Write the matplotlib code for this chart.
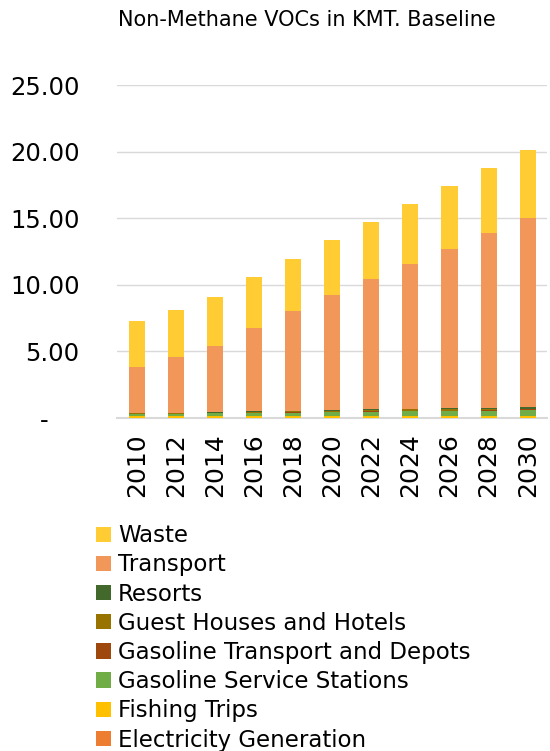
import matplotlib
matplotlib.use("Agg")
import matplotlib.pyplot as plt
import numpy as np
from matplotlib.ticker import FuncFormatter

plt.rcParams["font.family"] = ["DejaVu Sans"]

years = ["2010", "2012", "2014", "2016", "2018", "2020", "2022", "2024", "2026", "2028", "2030"]

# stacked from bottom to top
electricity = [0.02, 0.02, 0.02, 0.02, 0.02, 0.02, 0.02, 0.02, 0.02, 0.02, 0.02]
fishing = [0.13, 0.13, 0.13, 0.13, 0.13, 0.13, 0.13, 0.13, 0.13, 0.13, 0.13]
service_stations = [0.14, 0.16, 0.19, 0.22, 0.25, 0.28, 0.31, 0.34, 0.37, 0.41, 0.45]
gas_transport = [0.02, 0.02, 0.02, 0.03, 0.03, 0.03, 0.03, 0.04, 0.04, 0.04, 0.05]
guest_houses = [0.06, 0.06, 0.05, 0.05, 0.06, 0.08, 0.10, 0.12, 0.08, 0.06, 0.06]
resorts = [0.02, 0.02, 0.04, 0.04, 0.05, 0.06, 0.06, 0.06, 0.08, 0.09, 0.10]
transport = [3.46, 4.19, 4.95, 6.26, 7.51, 8.60, 9.75, 10.84, 11.98, 13.15, 14.24]
waste = [3.45, 3.50, 3.65, 3.85, 3.90, 4.15, 4.30, 4.55, 4.75, 4.90, 5.05]

series = [
    ("Electricity Generation", electricity, "#ED7D31"),
    ("Fishing Trips", fishing, "#FFC000"),
    ("Gasoline Service Stations", service_stations, "#70AD47"),
    ("Gasoline Transport and Depots", gas_transport, "#9E480E"),
    ("Guest Houses and Hotels", guest_houses, "#997300"),
    ("Resorts", resorts, "#43682B"),
    ("Transport", transport, "#F1975A"),
    ("Waste", waste, "#FFCD33"),
]

fig = plt.figure(figsize=(5.5, 7.51), dpi=100)
ax = fig.add_axes([0.213, 0.4434, 0.782, 0.4434])

x = np.arange(len(years))
bottom = np.zeros(len(years))
handles = []
for name, vals, color in series:
    h = ax.bar(x, vals, width=0.41, bottom=bottom, color=color, label=name, zorder=3)
    handles.append(h)
    bottom += np.array(vals)

ax.set_ylim(0, 25)
ax.set_xlim(-0.5, len(years) - 0.5)
ax.set_yticks([0, 5, 10, 15, 20, 25])
ax.yaxis.set_major_formatter(FuncFormatter(lambda v, p: "-    " if v == 0 else f"{v:.2f}"))
ax.set_xticks(x)
ax.set_xticklabels(years, rotation=90)
ax.tick_params(axis="y", length=0, labelsize=17.5, pad=27)
ax.tick_params(axis="x", length=0, labelsize=18, pad=11)

ax.grid(axis="y", color="#D9D9D9", linewidth=1, zorder=0)
for s in ["top", "right", "left"]:
    ax.spines[s].set_visible(False)
ax.spines["bottom"].set_color("#D9D9D9")
ax.spines["bottom"].set_linewidth(1.5)

fig.text(0.558, 0.973, "Non-Methane VOCs in KMT. Baseline", ha="center", va="center", fontsize=15)

fig.legend(handles[::-1], [s[0] for s in series][::-1], loc="upper left",
           bbox_to_anchor=(0.175, 0.302), frameon=False, fontsize=16.5,
           handlelength=0.65, handleheight=0.65, handletextpad=0.3,
           labelspacing=0.27, borderaxespad=0, borderpad=0)

fig.savefig("out.png", dpi=100)
